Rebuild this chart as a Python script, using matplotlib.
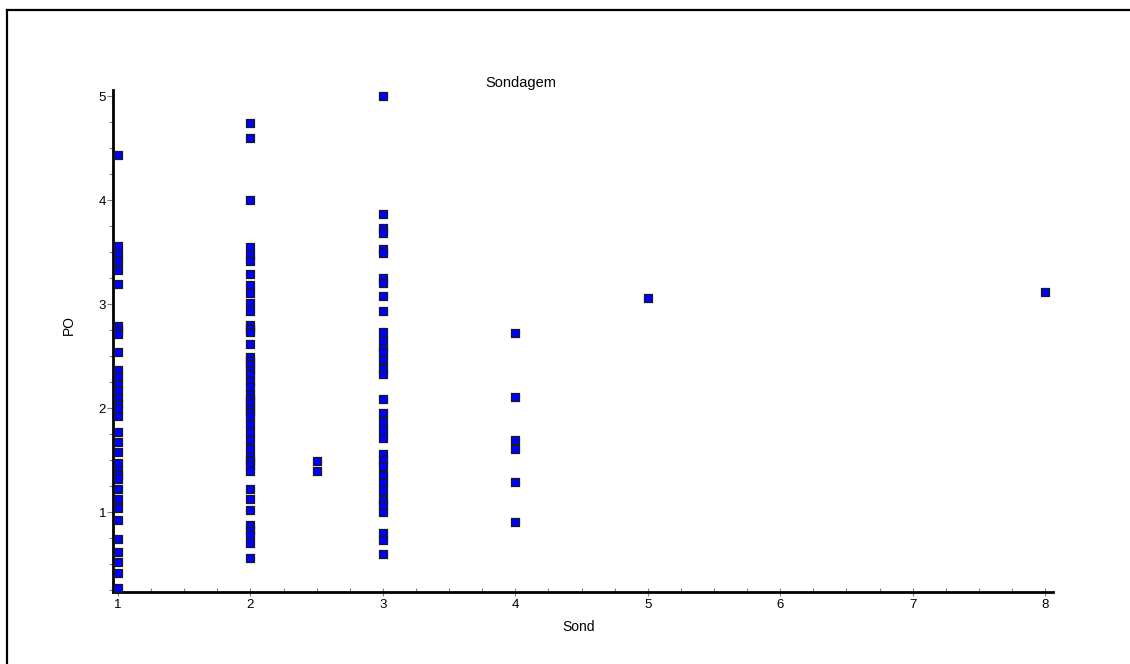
import matplotlib
matplotlib.use("Agg")
import matplotlib.pyplot as plt
from matplotlib.lines import Line2D
from matplotlib.ticker import MultipleLocator

plt.rcParams['font.family'] = ['Liberation Sans', 'DejaVu Sans']

# PO values per Sond group
po_s1 = [4.43, 3.56, 3.48, 3.41, 3.33, 3.19, 2.79, 2.75, 2.71, 2.54, 2.37, 2.30, 2.23,
         2.17, 2.10, 2.04, 1.99, 1.92, 1.77, 1.67, 1.58, 1.47, 1.40, 1.36, 1.32, 1.22,
         1.13, 1.04, 0.92, 0.74, 0.62, 0.52, 0.41, 0.27]
po_s2 = [4.74, 4.60, 4.00, 3.55, 3.47, 3.41, 3.29, 3.18, 3.11, 3.01, 2.93, 2.80, 2.76,
         2.73, 2.62, 2.49, 2.45, 2.41, 2.37, 2.33, 2.26, 2.20, 2.13, 2.09, 2.05, 2.00,
         1.96, 1.92, 1.85, 1.77, 1.69, 1.61, 1.53, 1.49, 1.45, 1.39, 1.22, 1.13, 1.02,
         0.88, 0.83, 0.78, 0.70, 0.56]
po_s25 = [1.49, 1.39]
po_s3 = [5.00, 3.87, 3.73, 3.68, 3.53, 3.49, 3.25, 3.20, 3.08, 2.93, 2.73, 2.65, 2.58,
         2.54, 2.46, 2.38, 2.33, 2.09, 1.95, 1.87, 1.79, 1.71, 1.56, 1.50, 1.44, 1.36,
         1.28, 1.20, 1.12, 1.07, 1.00, 0.80, 0.73, 0.60]
po_s4 = [2.72, 2.11, 1.69, 1.61, 1.29, 0.90]
po_s5 = [3.06]
po_s8 = [3.12]

groups = [(1, po_s1), (2, po_s2), (2.5, po_s25), (3, po_s3), (4, po_s4), (5, po_s5), (8, po_s8)]
sond = [g for g, vals in groups for _ in vals]
po = [v for g, vals in groups for v in vals]

W, H = 1130, 664
fig = plt.figure(figsize=(W / 100, H / 100), dpi=100)
fig.patch.set_facecolor('white')

# axes placement (pixels)
left, right, top, bottom = 113, 1053, 90, 592
ax = fig.add_axes([left / W, 1 - bottom / H, (right - left) / W, (bottom - top) / H])

ax.scatter(sond, po, marker='s', s=38, facecolor='#0000FF', edgecolor='#1a1a1a',
           linewidths=0.9, zorder=3, clip_on=False)

ax.set_xlim(0.962, 8.06)
ax.set_ylim(0.231, 5.058)

for s in ['top', 'right']:
    ax.spines[s].set_visible(False)
for s in ['left', 'bottom']:
    ax.spines[s].set_linewidth(2.0)
    ax.spines[s].set_color('black')

ax.xaxis.set_major_locator(MultipleLocator(1))
ax.xaxis.set_minor_locator(MultipleLocator(0.25))
ax.yaxis.set_major_locator(MultipleLocator(1))
ax.yaxis.set_minor_locator(MultipleLocator(0.25))

ax.tick_params(axis='x', which='major', direction='inout', length=6, width=0.8,
               color='#808080', labelsize=9.5, pad=2, labelcolor='black')
ax.tick_params(axis='x', which='minor', direction='in', length=3, width=0.8, color='#808080')
ax.tick_params(axis='y', which='major', direction='out', length=4, width=0.8,
               color='#808080', labelsize=9.5, pad=1, labelcolor='black')
ax.tick_params(axis='y', which='minor', direction='out', length=3, width=0.8, color='#808080')

ax.set_title('Sondagem', fontsize=10.5, x=0.434, pad=2)
ax.set_xlabel('Sond', fontsize=10)
ax.xaxis.set_label_coords(0.495, -0.056)
ax.set_ylabel('PO', fontsize=10)
ax.yaxis.set_label_coords(-0.040, 0.532)

# outer frame (top and left edges)
fig.add_artist(Line2D([7 / W, 7 / W], [1 - 10 / H, 0], transform=fig.transFigure,
                      color='black', linewidth=1.6))
fig.add_artist(Line2D([7 / W, 1], [1 - 10 / H, 1 - 10 / H], transform=fig.transFigure,
                      color='black', linewidth=1.6))

fig.savefig('out.png', dpi=100, facecolor='white')
